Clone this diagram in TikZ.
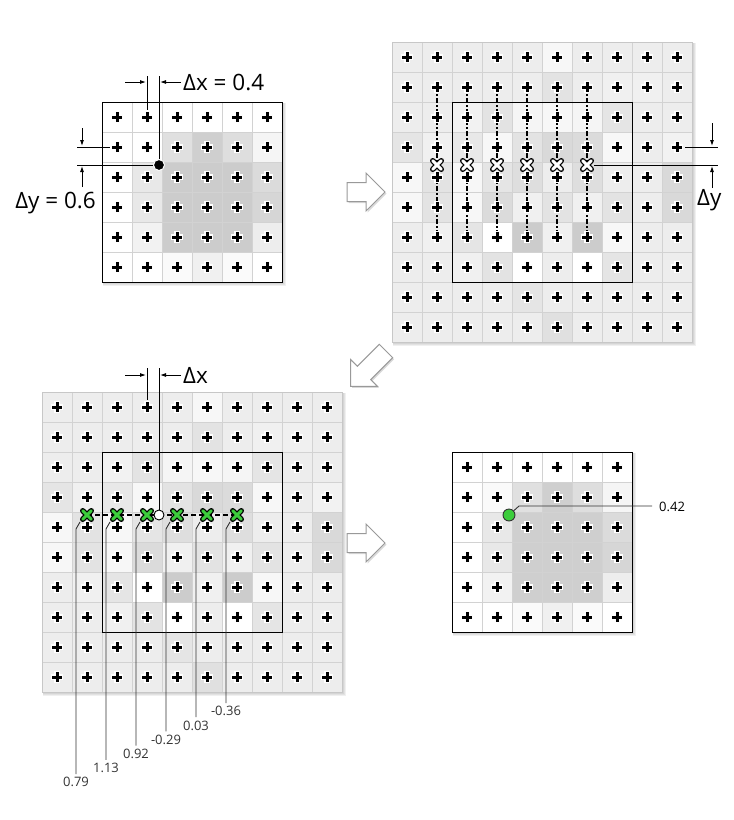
\documentclass[tikz,border=0pt]{standalone}
\usepackage{fontspec}
\setmainfont{Open Sans}
\usepackage{tikz}
\usetikzlibrary{arrows.meta,shadows}

\definecolor{gridgray}{RGB}{210,210,210}
\definecolor{ptgreen}{RGB}{60,205,60}

\tikzset{
  plusmark/.pic={
    \draw[white,line width=5.4pt] (-6.2,0) -- (6.2,0) (0,-6.2) -- (0,6.2);
    \draw[black,line width=3pt] (-5,0) -- (5,0) (0,-5) -- (0,5);
  },
  xmark/.pic={
    \draw[black,line width=5.4pt,line cap=round] (-4.3,-4.3) -- (4.3,4.3) (-4.3,4.3) -- (4.3,-4.3);
    \draw[#1,line width=3pt,line cap=round] (-4.3,-4.3) -- (4.3,4.3) (-4.3,4.3) -- (4.3,-4.3);
  },
  bigarrow/.pic={
    \draw[fill=white,draw=black!40,line width=1pt,
      drop shadow={opacity=.3,shadow xshift=1.5pt,shadow yshift=-1.5pt}]
      (0,-9.5) -- (#1-19,-9.5) -- (#1-19,-19) -- (#1,0) -- (#1-19,19) -- (#1-19,9.5) -- (0,9.5) -- cycle;
  }
}

\newcommand{\pixcells}[4]{%
  \pgfmathsetmacro\gs{30*#3}
  \foreach \o in {1,2,3}
    \fill[black,opacity=.06] (#1+1,#2+1) rectangle ++(\gs+\o,\gs+\o);
  \foreach \s [count=\k from 0] in {#4} {
    \pgfmathtruncatemacro\gc{mod(\k,#3)}
    \pgfmathtruncatemacro\gr{div(\k,#3)}
    \fill[black!\s] (#1+30*\gc,#2+30*\gr) rectangle ++(30,30);
  }
  \pgfmathtruncatemacro\gm{#3-1}
  \foreach \i in {1,...,\gm} {
    \draw[gridgray,line width=.8pt] (#1+30*\i,#2) -- ++(0,\gs);
    \draw[gridgray,line width=.8pt] (#1,#2+30*\i) -- ++(\gs,0);
  }
}
\newcommand{\pixplus}[3]{%
  \pgfmathtruncatemacro\gm{#3-1}
  \foreach \i in {0,...,\gm}
    \foreach \j in {0,...,\gm}
      \pic at (#1+15+30*\i,#2+15+30*\j) {plusmark};
}

\begin{document}
\begin{tikzpicture}[x=1pt,y=-1pt,
  note/.style={line width=.9pt},
  lead/.style={black!80,line width=.9pt},
  dim/.style={line width=.9pt,-{Latex[length=6pt,width=4pt]}},
  big/.style={font=\fontsize{22.5}{26}\selectfont,inner sep=0pt},
  small/.style={font=\fontsize{13}{15}\selectfont,inner sep=0pt}]

\useasboundingbox (0,0) rectangle (734,820);

% source image
\pixcells{102}{102}{6}{0,0,0,0,0,0, 0,0,12,19,13,4, 0,9,20,20,20,14,
  0,9,20,20,20,16, 0,5,20,20,20,7, 0,0,2,6,2,0}
\draw[line width=1pt] (102,102) rectangle (282,282);
\pixplus{102}{102}{6}

\node[circle,fill=black,draw=white,line width=1pt,inner sep=0pt,minimum size=11pt] (src) at (159,165) {};
\coordinate (dxa) at (147,76);
\coordinate (dxb) at (159,76);
\draw[note] (dxa) -- (147,110);
\draw[note] (dxb) -- (src);
\draw[dim] (125,82) -- (146,82);
\draw[dim] (181,82) -- (160,82);
\node[big,anchor=base west] (dxlab) at (183,90) {Δx = 0.4};

\coordinate (dya) at (77,147);
\coordinate (dyb) at (77,165);
\draw[note] (dya) -- (110,147);
\draw[note] (dyb) -- (src);
\draw[dim] (82,128) -- (82,146);
\draw[dim] (82,187) -- (82,166);
\node[big,anchor=base east] (dylab) at (96,208) {Δy = 0.6};

% vertical pass
\pixcells{392}{42}{10}{7,7,7,7,7,3,7,7,7,7, 7,7,7,7,7,11,7,6,6,7,
  7,7,5,11,4,3,4,10,7,7, 10,6,9,3,11,15,14,3,7,5,
  3,11,3,10,13,7,13,7,7,15, 3,11,3,14,6,11,6,11,7,15,
  7,6,10,0,20,6,20,3,7,7, 7,7,6,11,0,7,0,10,7,7,
  7,7,7,7,10,7,7,7,7,7, 7,7,7,7,7,12,7,7,7,7}
\draw[black!22,line width=.8pt] (392,42) rectangle (692,342);
\draw[line width=1pt] (452,102) rectangle (632,282);
\foreach \i in {0,...,5}
  \draw[line width=1.3pt,dash pattern=on 5pt off 2pt on 2pt off 2pt] (437+30*\i,87) -- (437+30*\i,237);
\pixplus{392}{42}{10}
\foreach \i in {0,...,5}
  \pic (vx\i) at (437+30*\i,165) {xmark=white};
\coordinate (vyend) at (594,165);
\draw[note] (vyend) -- (718,165);
\draw[note] (685,147) -- (718,147);
\draw[dim] (712,123) -- (712,146);
\draw[dim] (712,188) -- (712,166);
\node[big,anchor=base west] (dylab2) at (697,205) {Δy};

% horizontal pass
\pixcells{42}{392}{10}{7,7,7,7,7,3,7,7,7,7, 7,7,7,7,7,11,7,6,6,7,
  7,7,5,11,4,3,4,10,7,7, 10,6,9,3,11,15,14,3,7,5,
  3,11,3,10,13,7,13,7,7,15, 3,11,3,14,6,11,6,11,7,15,
  7,6,10,0,20,6,20,3,7,7, 7,7,6,11,0,7,0,10,7,7,
  7,7,7,7,10,7,7,7,7,7, 7,7,7,7,7,12,7,7,7,7}
\draw[black!22,line width=.8pt] (42,392) rectangle (342,692);
\draw[line width=1pt] (102,452) rectangle (282,632);
\draw[line width=1.3pt,dash pattern=on 5pt off 3pt] (87,515) -- (237,515);
\pixplus{42}{392}{10}

\node[circle,fill=white,draw=black,line width=.9pt,inner sep=0pt,minimum size=10pt] (mid) at (159,515) {};
\draw[note] (147,368) -- (147,400);
\draw[note] (159,368) -- (mid);
\draw[dim] (125,375) -- (146,375);
\draw[dim] (181,375) -- (160,375);
\node[big,anchor=base west] (dxlab2) at (183,383) {Δx};

\foreach \v [count=\i from 0] in {0.79,1.13,0.92,-0.29,0.03,-0.36}
  \draw[lead] (80+30*\i,522) -- (76+30*\i,529) -- (76+30*\i,774-14.2*\i)
    node[small,below=3pt] (val\i) {\v};
\foreach \i in {0,...,5}
  \pic (hx\i) at (87+30*\i,515) {xmark=ptgreen};

% result
\pixcells{452}{452}{6}{0,0,0,0,0,0, 0,2,12,19,13,4, 0,9,19,19,19,14,
  0,9,19,19,19,16, 0,5,19,19,19,7, 0,0,2,6,2,0}
\draw[line width=1pt] (452,452) rectangle (632,632);
\pixplus{452}{452}{6}
\node[circle,fill=ptgreen,draw=black!80,line width=.9pt,inner sep=0pt,minimum size=12pt] (res) at (509,515) {};
\coordinate (resend) at (652,506);
\draw[lead] (res) -- (519,506) -- (resend);
\node[small,anchor=west] (reslab) at (659,507) {0.42};

% arrows between steps
\pic (arr1) at (347,192) {bigarrow=38};
\pic[rotate=225] (arr2) at (386,351) {bigarrow=50};
\pic (arr3) at (347,543) {bigarrow=38};

\end{tikzpicture}
\end{document}
